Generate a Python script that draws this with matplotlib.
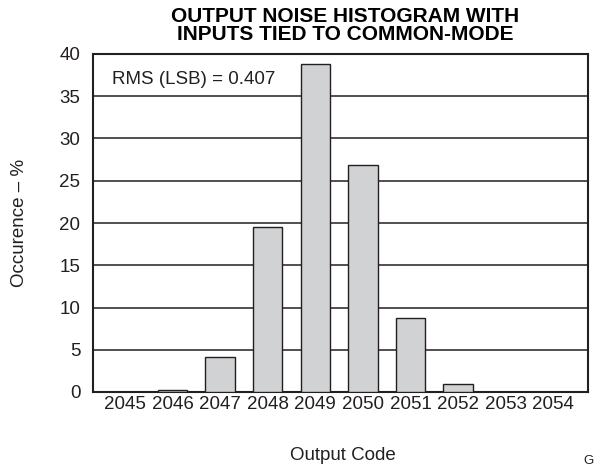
import matplotlib
matplotlib.use("Agg")
import matplotlib.pyplot as plt

plt.rcParams['font.family'] = ['Liberation Sans', 'DejaVu Sans']

codes = ["2045", "2046", "2047", "2048", "2049", "2050", "2051", "2052", "2053", "2054"]
occurrence = [0.05, 0.27, 4.1, 19.5, 38.8, 26.9, 8.8, 1.0, 0.05, 0.05]
yticks = [0, 5, 10, 15, 20, 25, 30, 35, 40]

W, H = 594, 468
fig = plt.figure(figsize=(W/100, H/100), dpi=100)
ax = fig.add_axes([93/W, 1-392/H, (588-93)/W, (392-54)/H])

ink = '#231f20'
x = list(range(len(codes)))
ax.set_axisbelow(True)
ax.yaxis.grid(True, color=ink, linewidth=1.1)
ax.bar(x, occurrence, width=0.62, color='#d1d2d4', edgecolor=ink, linewidth=1.0, zorder=3)

ax.set_xlim(-0.67, 9.73)
ax.set_ylim(0, 40)
ax.set_yticks(yticks)
ax.set_xticks(x)
ax.set_xticklabels(codes)
ax.tick_params(axis='both', length=0, labelsize=13.5, colors=ink)
ax.tick_params(axis='x', pad=3)
ax.tick_params(axis='y', pad=9)
for s in ax.spines.values():
    s.set_color(ink)
    s.set_linewidth(1.5)

fig.text(20/W, 1-223/H, 'Occurence – %', rotation=90, fontsize=13.5, color=ink,
         ha='center', va='center')
fig.text(343/W, 1-456/H, 'Output Code', fontsize=13.5, color=ink, ha='center', va='center')

fig.text(345/W, 1-22.5/H, 'OUTPUT NOISE HISTOGRAM WITH', fontsize=15, fontweight='bold',
         color='#000000', ha='center', va='baseline')
fig.text(345/W, 1-40/H, 'INPUTS TIED TO COMMON-MODE', fontsize=15, fontweight='bold',
         color='#000000', ha='center', va='baseline')

ax.text(-0.27, 37.0, 'RMS (LSB) = 0.407', fontsize=13.5, color=ink, va='center', ha='left')
fig.text(583/W, 1-464/H, 'G', fontsize=9.5, color=ink, va='baseline', ha='left')

fig.savefig('out.png', dpi=100)
